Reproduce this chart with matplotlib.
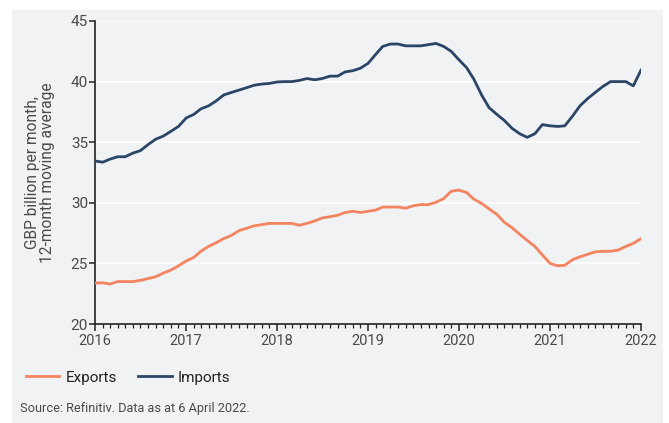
import matplotlib
matplotlib.use("Agg")
import matplotlib.pyplot as plt
import matplotlib.patches as patches
import matplotlib.dates as mdates
import pandas as pd

plt.rcParams['font.family'] = ['Roboto', 'DejaVu Sans']

# monthly 12-month moving averages, Jan 2016 - Jan 2022 (GBP bn)
months = pd.date_range("2016-01-01", "2022-01-01", freq="MS")

imports = [
    33.45, 33.35, 33.6, 33.8, 33.8, 34.1, 34.3, 34.8, 35.25, 35.5, 35.9, 36.3,
    37.0, 37.3, 37.75, 38.0, 38.4, 38.9, 39.1, 39.3, 39.5, 39.7, 39.8, 39.85,
    39.97, 40.0, 40.0, 40.1, 40.25, 40.15, 40.25, 40.45, 40.45, 40.8, 40.9, 41.1,
    41.5, 42.25, 42.9, 43.1, 43.1, 42.95, 42.95, 42.95, 43.05, 43.15, 42.9, 42.5,
    41.8, 41.15, 40.2, 38.9, 37.85, 37.3, 36.8, 36.15, 35.7, 35.4, 35.7, 36.45,
    36.35, 36.3, 36.35, 37.15, 38.0, 38.6, 39.1, 39.6, 40.0, 40.0, 40.0, 39.65,
    40.95,
]
exports = [
    23.38, 23.4, 23.3, 23.5, 23.5, 23.5, 23.6, 23.75, 23.9, 24.2, 24.45, 24.8,
    25.2, 25.5, 26.0, 26.4, 26.7, 27.05, 27.3, 27.7, 27.9, 28.1, 28.2, 28.3,
    28.3, 28.3, 28.3, 28.15, 28.3, 28.5, 28.75, 28.85, 28.97, 29.2, 29.3, 29.2,
    29.3, 29.4, 29.65, 29.65, 29.65, 29.55, 29.75, 29.85, 29.85, 30.05, 30.35, 30.95,
    31.05, 30.85, 30.3, 29.95, 29.5, 29.05, 28.4, 27.95, 27.4, 26.9, 26.4, 25.7,
    25.0, 24.8, 24.85, 25.3, 25.55, 25.75, 25.95, 26.0, 26.0, 26.1, 26.4, 26.65,
    27.05,
]
y_ticks = [20, 25, 30, 35, 40, 45]

bg = '#f0f2f4'
navy = '#2c4566'
salmon = '#f4845f'
grey = '#4a4a4a'

W, H = 669, 423
fig = plt.figure(figsize=(W / 100, H / 100), dpi=100, facecolor='white')
# grey panel behind everything
fig.patches.append(patches.Rectangle((12 / W, 0), (663 - 12) / W, (H - 10) / H,
                                     transform=fig.transFigure, facecolor=bg,
                                     edgecolor='none', zorder=-10))

ax = fig.add_axes([95 / W, 1 - 324 / H, (641 - 95) / W, (324 - 21) / H])
ax.set_facecolor(bg)

ax.plot(months, exports, color=salmon, lw=2, label='Exports', zorder=3)
ax.plot(months, imports, color=navy, lw=2, label='Imports', zorder=3)

ax.set_ylim(20, 45)
ax.set_yticks(y_ticks)
ax.set_xlim(months[0], months[-1])
ax.xaxis.set_major_locator(mdates.YearLocator())
ax.xaxis.set_major_formatter(mdates.DateFormatter('%Y'))
ax.xaxis.set_minor_locator(mdates.MonthLocator())

ax.grid(axis='y', color='white', lw=1.2, zorder=1)
ax.set_axisbelow(True)
for s in ['top', 'right']:
    ax.spines[s].set_visible(False)
for s in ['left', 'bottom']:
    ax.spines[s].set_color('#222222')
    ax.spines[s].set_linewidth(1.2)

ax.tick_params(axis='x', which='major', length=5, width=1.1, color='#222222',
               labelsize=10.5, labelcolor=grey, pad=2)
ax.tick_params(axis='x', which='minor', length=3, width=0.9, color='#222222')
ax.tick_params(axis='y', length=4, width=1.1, color='#222222',
               labelsize=11, labelcolor=grey, pad=1)

ax.set_ylabel('GBP billion per month,\n12-month moving average',
              fontsize=11.2, color=grey, labelpad=11, linespacing=1.05)

fig.legend(loc='upper left', bbox_to_anchor=(12 / W, 1 - 357 / H),
           ncol=2, frameon=False, fontsize=11, handlelength=2.2,
           columnspacing=1.4, handletextpad=0.4, labelcolor='#222222')

fig.text(20 / W, 1 - 408 / H, 'Source: Refinitiv. Data as at 6 April 2022.',
         fontsize=9.2, color=grey, va='center', ha='left')

fig.savefig('out.png', dpi=100, facecolor='white')
